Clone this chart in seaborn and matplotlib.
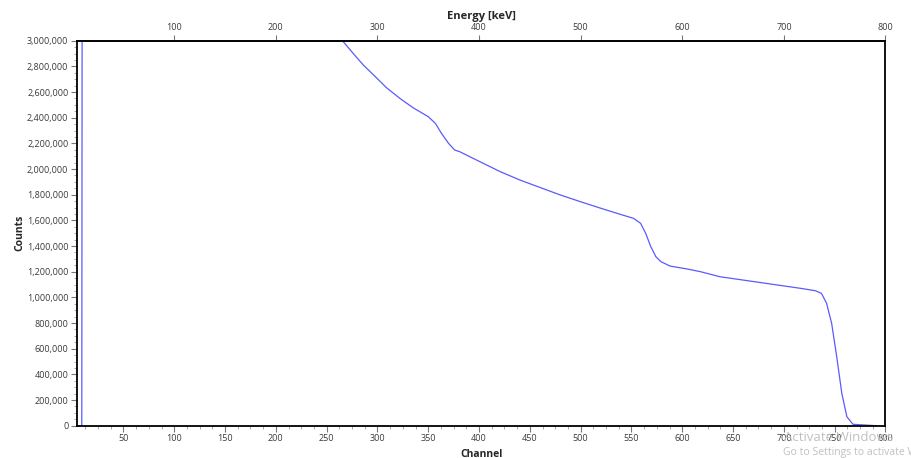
import matplotlib
matplotlib.use("Agg")
import matplotlib.pyplot as plt
from matplotlib.ticker import FuncFormatter, MultipleLocator, FixedLocator
import seaborn as sns
import pandas as pd

# Spectrum read-out: channel number and counts
channels = [4, 9, 10, 265, 276, 286, 298, 309, 322, 335, 350, 357, 363, 370,
            376, 381, 394, 421, 440, 480, 500, 520, 539, 552, 559, 564, 569,
            574, 579, 588, 605, 618, 637, 716, 731, 737, 742, 747, 752, 757,
            762, 768, 791]
counts = [0, 0, 9_500_000, 3_005_000, 2_902_000, 2_811_000, 2_719_000,
          2_633_000, 2_551_000, 2_478_000, 2_408_000, 2_356_000, 2_278_000,
          2_200_000, 2_148_000, 2_135_000, 2_084_000, 1_979_000, 1_915_000,
          1_798_000, 1_745_000, 1_694_000, 1_647_000, 1_616_000, 1_577_000,
          1_499_000, 1_395_000, 1_317_000, 1_278_000, 1_244_000, 1_221_000,
          1_200_000, 1_161_000, 1_071_000, 1_052_000, 1_031_000, 954_000,
          798_000, 538_000, 252_000, 70_000, 11_000, 0]

channel_ticks = list(range(50, 801, 50))
energy_ticks = list(range(100, 801, 100))
count_ticks = list(range(0, 3_000_001, 200_000))

df = pd.DataFrame({"Channel": channels, "Counts": counts})

sns.set_theme(style="white")
plt.rcParams["font.family"] = ["Open Sans", "DejaVu Sans"]

fig = plt.figure(figsize=(9.11, 4.58), dpi=100)
ax = fig.add_axes([0.0842, 0.0705, 0.8878, 0.8406])

sns.lineplot(data=df, x="Channel", y="Counts", ax=ax, color="#5a5aff",
             linewidth=0.9, sort=True)

ax.set_xlim(4, 800)
ax.set_ylim(0, 3_000_000)

tick_color = "#3a3a3a"
ax.xaxis.set_major_locator(FixedLocator(channel_ticks))
ax.xaxis.set_minor_locator(MultipleLocator(12.5))
ax.yaxis.set_major_locator(FixedLocator(count_ticks))
ax.yaxis.set_minor_locator(MultipleLocator(50_000))
ax.yaxis.set_major_formatter(FuncFormatter(lambda v, _: f"{int(v):,}"))

ax.tick_params(axis="both", which="major", direction="out", length=4,
               width=0.8, color="#777777", labelsize=6.5,
               labelcolor=tick_color, bottom=True, left=True, pad=2)
ax.tick_params(axis="both", which="minor", direction="out", length=2,
               width=0.6, color="#999999", bottom=True, left=True)

for side in ["left", "bottom", "top", "right"]:
    ax.spines[side].set_color("black")
    ax.spines[side].set_linewidth(1.3)

ax.set_xlabel("Channel", fontsize=7.5, fontweight="bold", labelpad=4)
ax.set_ylabel("Counts", fontsize=7.5, fontweight="bold", labelpad=1)

# Energy scale on the top axis (1 keV per channel)
top = ax.secondary_xaxis("top", functions=(lambda c: c, lambda e: e))
top.xaxis.set_major_locator(FixedLocator(energy_ticks))
top.tick_params(axis="x", which="major", direction="out", length=4,
                width=0.8, color="#777777", labelsize=6.5,
                labelcolor=tick_color, pad=2)
top.tick_params(axis="x", which="minor", length=0)
top.set_xlabel("Energy [keV]", fontsize=8, fontweight="bold", labelpad=3)

fig.text(0.861, 0.045, "Activate Windows", fontsize=9.5, color="#c0c0c0",
         ha="left", va="center")
fig.text(0.859, 0.012, "Go to Settings to activate Windows.", fontsize=7.5,
         color="#c0c0c0", ha="left", va="center")

fig.savefig("out.png", dpi=100)
